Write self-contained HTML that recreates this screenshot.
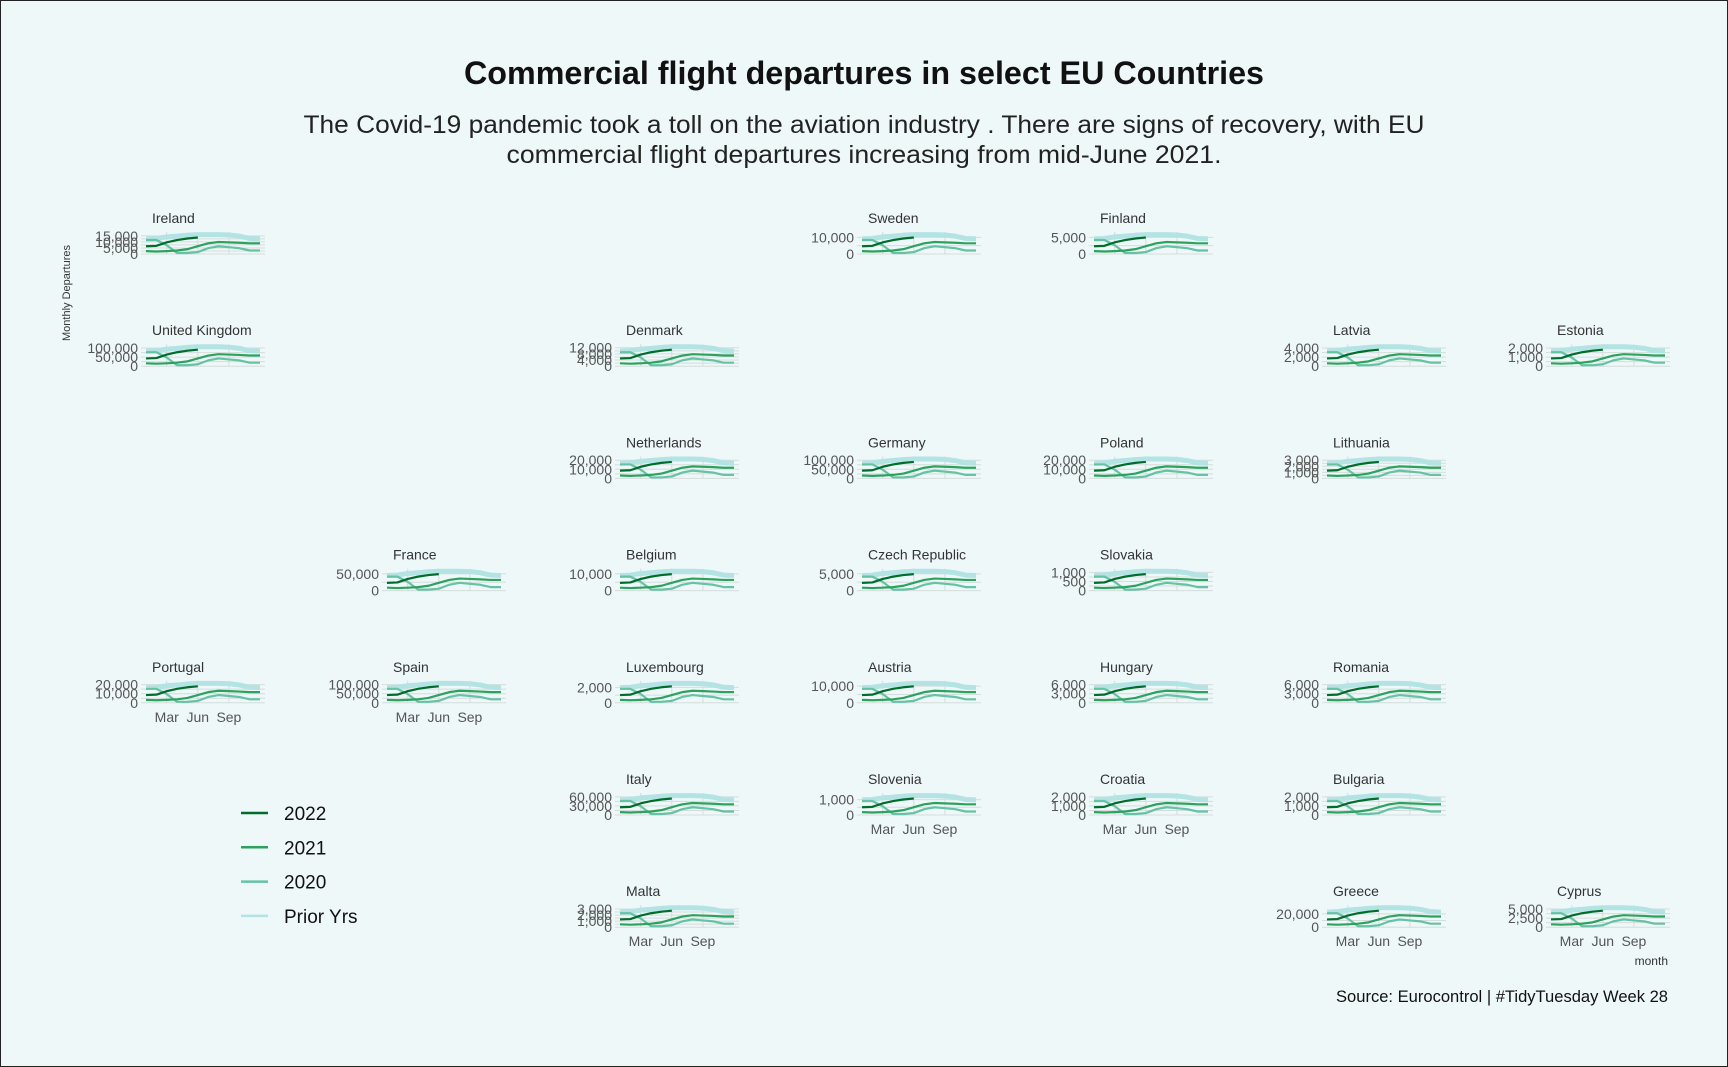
<!DOCTYPE html>
<html><head><meta charset="utf-8"><style>
html,body{margin:0;padding:0;background:#eef8f9;}
svg{display:block;font-family:"Liberation Sans",sans-serif;}
</style></head><body>
<svg id="chart" width="1728" height="1067" viewBox="0 0 1728 1067" xmlns="http://www.w3.org/2000/svg">
<rect x="0.5" y="0.5" width="1727" height="1066" fill="#eef8f9" stroke="#222" stroke-width="1"/>
<text x="864" y="84" text-anchor="middle" font-size="32" font-weight="bold" fill="#111" textLength="800" lengthAdjust="spacingAndGlyphs">Commercial flight departures in select EU Countries</text>
<text x="864" y="133" text-anchor="middle" font-size="25" fill="#222" textLength="1121" lengthAdjust="spacingAndGlyphs">The Covid-19 pandemic took a toll on the aviation industry . There are signs of recovery, with EU</text>
<text x="864" y="163" text-anchor="middle" font-size="25" fill="#222" textLength="715" lengthAdjust="spacingAndGlyphs">commercial flight departures increasing from mid-June 2021.</text>
<text transform="translate(70,293) rotate(-90)" text-anchor="middle" font-size="11" fill="#333">Monthly Departures</text>
<text x="1668" y="965" text-anchor="end" font-size="12" fill="#333">month</text>
<text x="1668" y="1002" text-anchor="end" font-size="17" fill="#111" textLength="332" lengthAdjust="spacingAndGlyphs">Source: Eurocontrol | #TidyTuesday Week 28</text>
<g id="panels"></g>
<g id="legend"></g>
</svg>
<script>
const countries=["Ireland","Sweden","Finland","United Kingdom","Denmark","Latvia","Estonia","Netherlands","Germany","Poland","Lithuania","France","Belgium","Czech Republic","Slovakia","Portugal","Spain","Luxembourg","Austria","Hungary","Romania","Italy","Slovenia","Croatia","Bulgaria","Malta","Greece","Cyprus"];
const gridRow=[0,0,0,1,1,1,1,2,2,2,2,3,3,3,3,4,4,4,4,4,4,5,5,5,5,6,6,6];
const gridCol=[0,3,4,0,2,5,6,2,3,4,5,1,2,3,4,0,1,2,3,4,5,2,3,4,5,2,5,6];
const yMax=[16500,12000,6000,110000,13000,4400,2200,22000,110000,22000,3300,60000,12000,6000,1100,22000,110000,2600,12000,6600,6600,66000,1300,2200,2200,3300,30000,5500];
const yTicks=[[0,5000,10000,15000],[0,10000],[0,5000],[0,50000,100000],[0,4000,8000,12000],[0,2000,4000],[0,1000,2000],[0,10000,20000],[0,50000,100000],[0,10000,20000],[0,1000,2000,3000],[0,50000],[0,10000],[0,5000],[0,500,1000],[0,10000,20000],[0,50000,100000],[0,2000],[0,10000],[0,3000,6000],[0,3000,6000],[0,30000,60000],[0,1000],[0,1000,2000],[0,1000,2000],[0,1000,2000,3000],[0,20000],[0,2500,5000]];
const months=[1,2,3,4,5,6,7,8,9,10,11,12];
const monthLabels=["Mar","Jun","Sep"];
const monthLabelPos=[3,6,9];
const priorShare=[0.78,0.8,0.88,0.92,0.97,1.0,1.0,1.0,0.98,0.92,0.8,0.78];
const share2020=[0.72,0.72,0.45,0.05,0.05,0.1,0.3,0.4,0.35,0.3,0.18,0.18];
const share2021=[0.15,0.13,0.15,0.18,0.25,0.4,0.55,0.62,0.6,0.58,0.55,0.55];
const share2022=[0.4,0.42,0.6,0.72,0.8,0.85];
const seriesNames=["Prior Yrs","2020","2021","2022"];
const seriesColors=["#b3e3e3","#66c2a4","#2ca25f","#006d2c"];
const seriesWidths=[5,2.2,2.2,2.2];
const colLeft=[141,382,615,857,1089,1322,1546];

const NS="http://www.w3.org/2000/svg";
function mk(tag,attrs,parent){const e=document.createElementNS(NS,tag);for(const k in attrs)e.setAttribute(k,attrs[k]);parent.appendChild(e);return e;}
function fmt(v){return v.toLocaleString("en-US");}
const panels=document.getElementById("panels");
const bottomCols={};
countries.forEach((c,i)=>{bottomCols[gridCol[i]]=Math.max(bottomCols[gridCol[i]]??-1,gridRow[i]);});
countries.forEach((c,i)=>{
  const left=colLeft[gridCol[i]], w=124, bottom=254+112.2*gridRow[i], h=20;
  const xs=m=>left+5+(m-1)*(w-10)/11;
  const ys=v=>bottom-v/yMax[i]*h;
  const g=mk("g",{},panels);
  
  
  const t=mk("text",{x:left+11,y:bottom-31,"font-size":14,fill:"#333"},g);t.textContent=c;
  
  
  const tk=yTicks[i];
  const gl=[];tk.forEach((v,j)=>{gl.push(v);if(j<tk.length-1)gl.push((v+tk[j+1])/2);});
  gl.forEach(v=>{const l=mk("line",{x1:left,x2:left+w,y1:ys(v),y2:ys(v),stroke:"#d6dcdc","stroke-width":1},g);
    
    });
  monthLabelPos.forEach(m=>{const l=mk("line",{x1:xs(m),x2:xs(m),y1:bottom-h-2,y2:bottom,stroke:"#d6dcdc","stroke-width":1},g);
    
    });
  tk.forEach(v=>{const tl=mk("text",{x:left-3,y:ys(v)+5,"text-anchor":"end","font-size":14,fill:"#555"},g);tl.textContent=fmt(v);
    
    });
  if(bottomCols[gridCol[i]]===gridRow[i]){
    monthLabels.forEach((lab,j)=>{const ml=mk("text",{x:xs(monthLabelPos[j]),y:bottom+19,"text-anchor":"middle","font-size":14,fill:"#555"},g);ml.textContent=lab;
      
      });
  }
  [priorShare,share2020,share2021,share2022].forEach((arr,s)=>{
    const pts=arr.map((f,k)=>xs(months[k])+","+ys(f*yMax[i]*0.97)).join(" ");
    const pl=mk("polyline",{points:pts,fill:"none",stroke:seriesColors[s],"stroke-width":seriesWidths[s],"stroke-linejoin":"round","stroke-linecap":"butt"},g);
    
    
  });
});
const legend=document.getElementById("legend");
[3,2,1,0].forEach((s,j)=>{
  const y=813+34.3*j;
  const l=mk("line",{x1:241,x2:268,y1:y,y2:y,stroke:seriesColors[s],"stroke-width":2.5},legend);
  
  
  const t=mk("text",{x:284,y:y+7,"font-size":19,fill:"#111"},legend);t.textContent=seriesNames[s];
  
  
});
</script>
</body></html>
